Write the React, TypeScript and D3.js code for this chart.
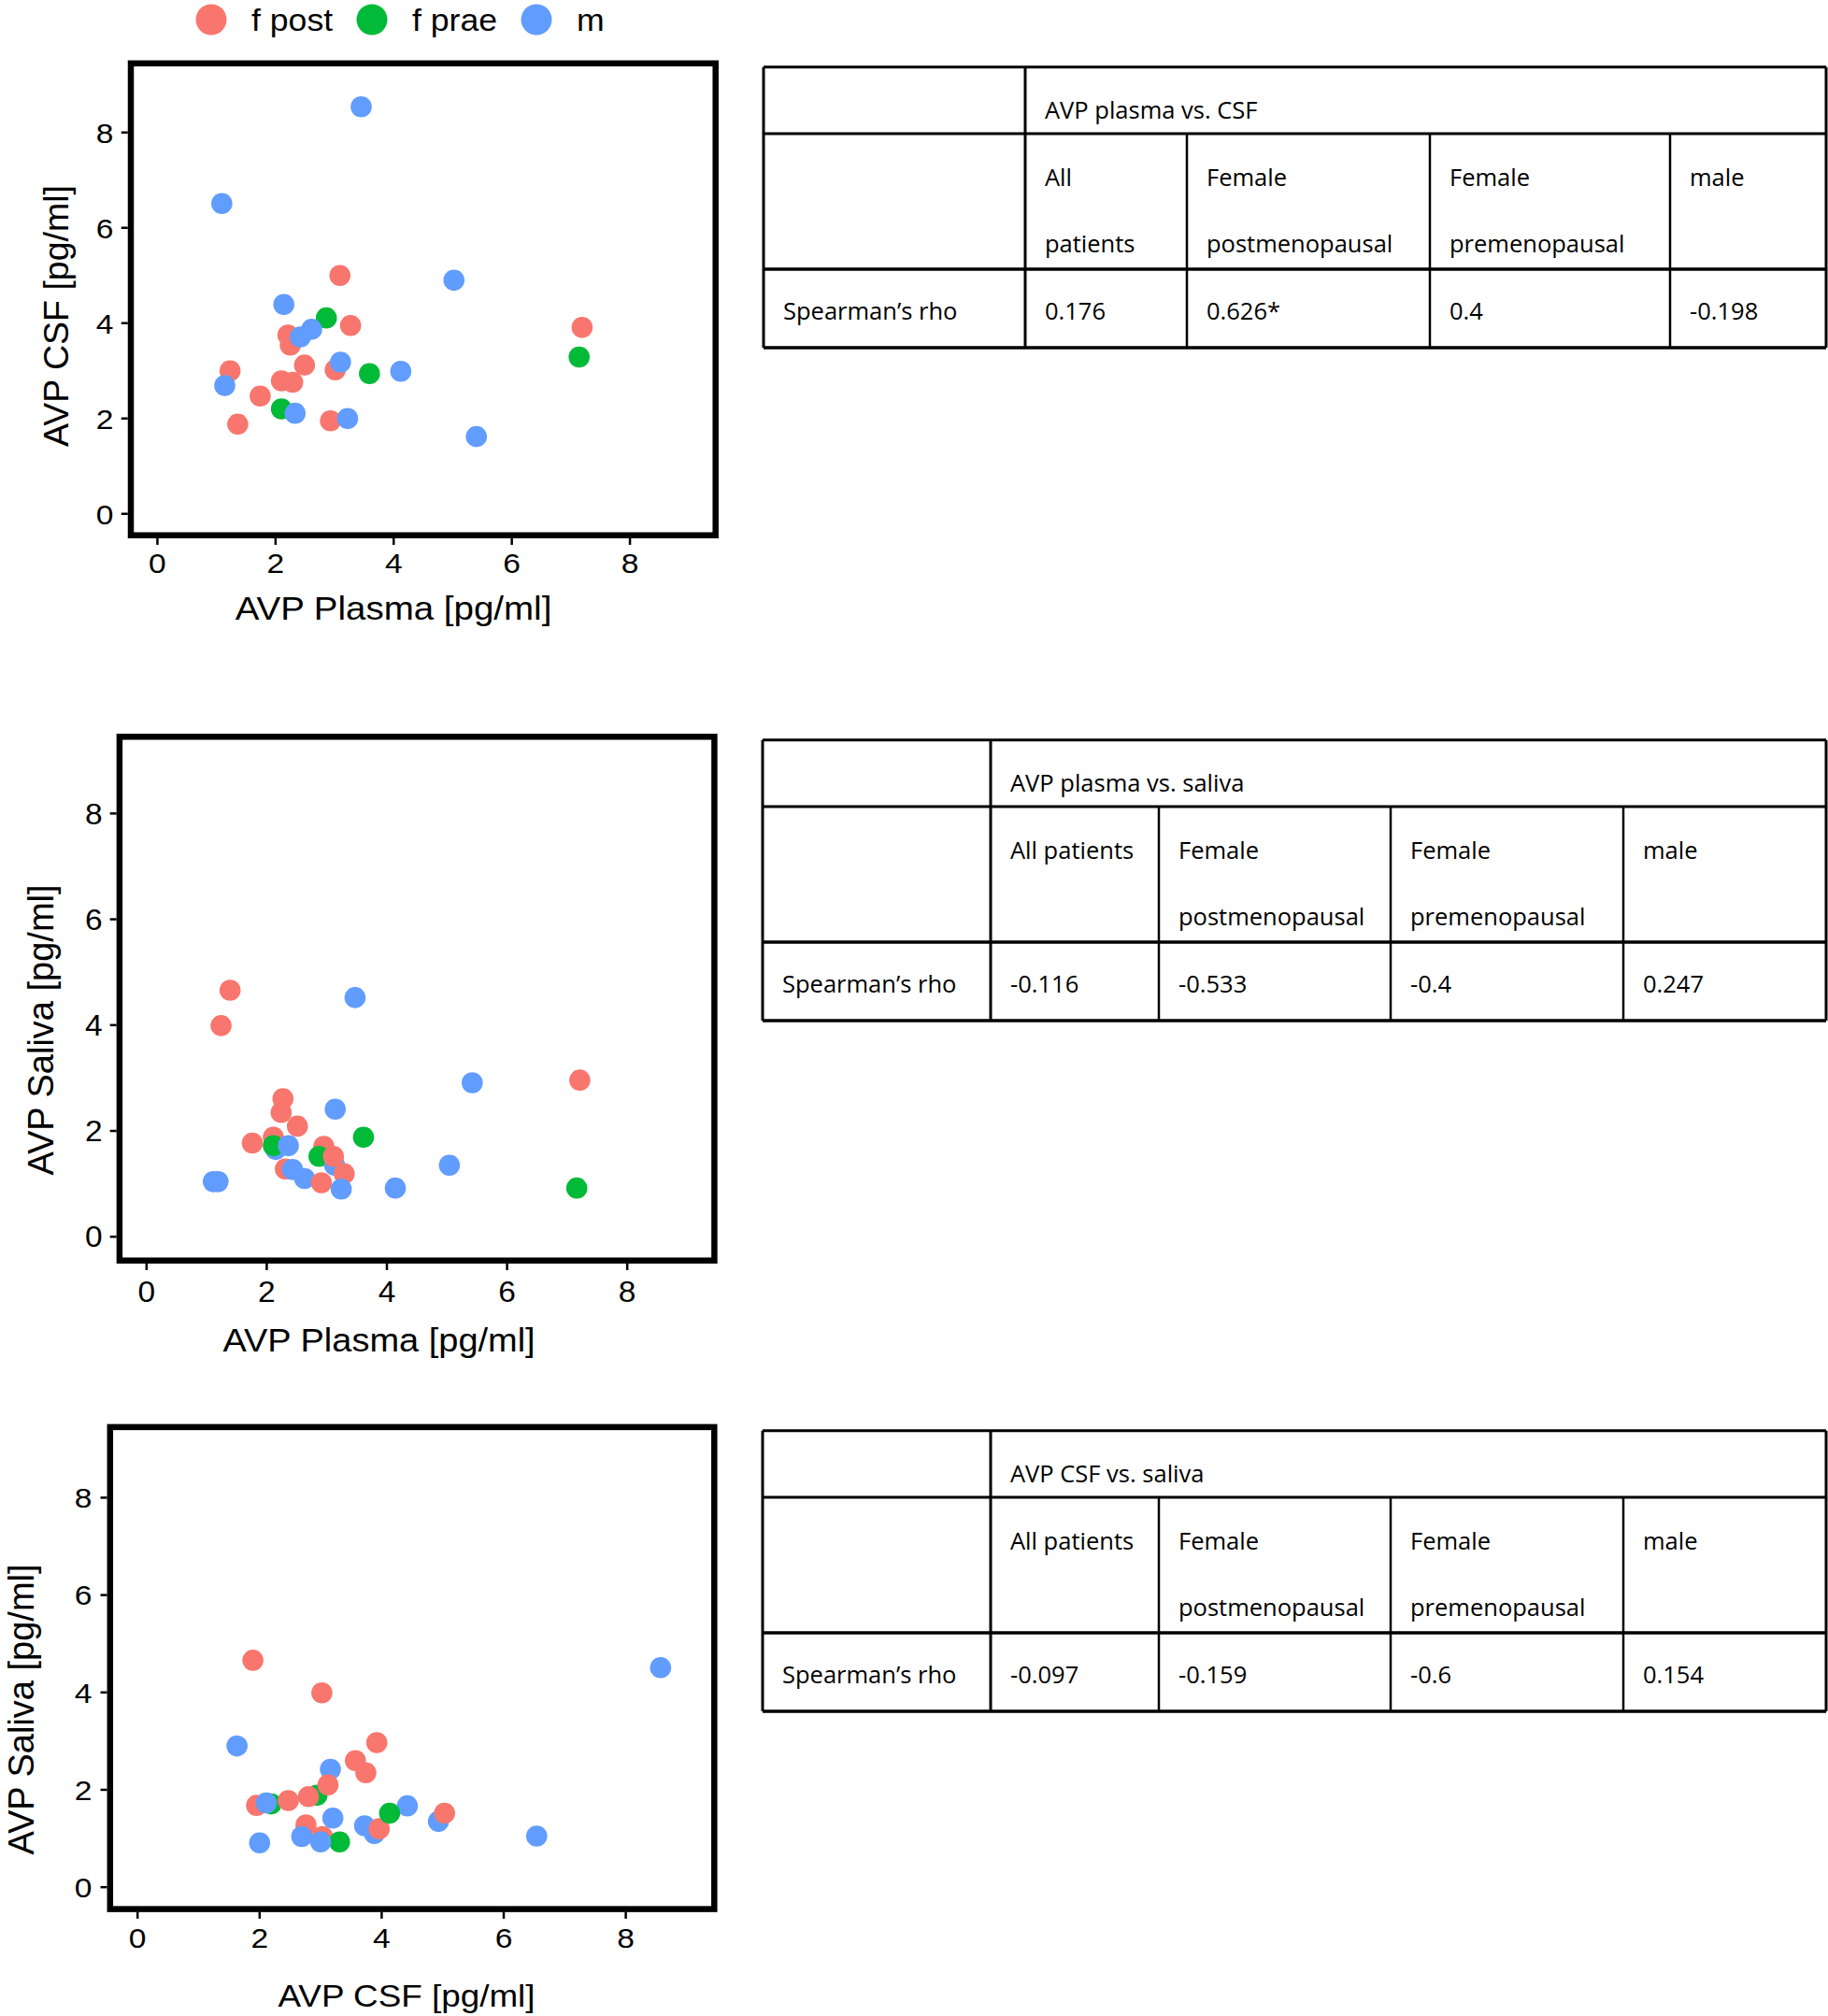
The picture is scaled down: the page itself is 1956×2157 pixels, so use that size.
import React from "react";
import * as d3 from "d3";

// ---------- DATA ----------
const groups = ["f post", "f prae", "m"];
const groupColors = ["#F8766D", "#00BA38", "#619CFF"];
const axisTicks = [0, 2, 4, 6, 8];
const axisDomain = [0, 9];

// Panel 1: AVP Plasma (x) vs AVP CSF (y)
const plasmaCsfX = [3.09, 3.27, 7.19, 2.21, 2.25, 2.49, 3.01, 1.23, 2.10, 2.29, 1.74, 1.36, 2.93, 2.86, 3.59, 7.14, 2.10, 3.45, 1.09, 5.02, 2.14, 2.61, 2.42, 3.10, 4.12, 1.14, 2.33, 3.22, 5.40];
const plasmaCsfY = [5.00, 3.95, 3.91, 3.75, 3.54, 3.12, 3.02, 3.00, 2.79, 2.76, 2.47, 1.88, 1.95, 4.11, 2.94, 3.29, 2.20, 8.54, 6.51, 4.90, 4.39, 3.87, 3.71, 3.18, 2.99, 2.69, 2.11, 2.00, 1.62];
const plasmaCsfGroup = ["f post", "f post", "f post", "f post", "f post", "f post", "f post", "f post", "f post", "f post", "f post", "f post", "f post", "f prae", "f prae", "f prae", "f prae", "m", "m", "m", "m", "m", "m", "m", "m", "m", "m", "m", "m"];

// Panel 2: AVP Plasma (x) vs AVP Saliva (y)
const plasmaSalivaX = [1.11, 1.19, 1.39, 1.24, 2.27, 2.24, 2.51, 1.76, 2.15, 2.11, 2.11, 2.36, 2.31, 2.43, 2.63, 2.95, 2.87, 3.13, 3.11, 2.91, 3.29, 3.24, 3.14, 3.61, 3.47, 4.14, 5.04, 5.42, 7.21, 7.16];
const plasmaSalivaY = [1.04, 1.04, 4.66, 3.99, 2.61, 2.35, 2.09, 1.77, 1.65, 1.88, 1.72, 1.72, 1.28, 1.27, 1.10, 1.71, 1.52, 1.35, 1.52, 1.02, 1.19, 0.90, 2.41, 1.88, 4.52, 0.92, 1.35, 2.91, 2.96, 0.92];
const plasmaSalivaGroup = ["m", "m", "f post", "f post", "f post", "f post", "f post", "f post", "m", "f post", "f prae", "m", "f post", "m", "m", "f post", "f prae", "m", "f post", "f post", "f post", "m", "m", "f prae", "m", "m", "m", "m", "f post", "f prae"];

// Panel 3: AVP CSF (x) vs AVP Saliva (y)
const csfSalivaX = [1.95, 2.19, 2.11, 2.94, 2.80, 2.47, 3.16, 3.12, 3.57, 3.74, 2.76, 3.03, 2.69, 3.31, 3.00, 2.00, 3.20, 3.72, 3.88, 3.96, 4.42, 4.13, 4.93, 5.03, 1.89, 3.02, 3.92, 8.57, 1.63, 6.54];
const csfSalivaY = [1.68, 1.71, 1.73, 1.89, 1.86, 1.78, 2.42, 2.10, 2.60, 2.35, 1.28, 1.04, 1.04, 0.93, 0.93, 0.91, 1.42, 1.26, 1.10, 1.20, 1.67, 1.52, 1.35, 1.52, 4.66, 3.99, 2.97, 4.51, 2.90, 1.05];
const csfSalivaGroup = ["f post", "f prae", "m", "f prae", "f post", "f post", "m", "f post", "f post", "f post", "f post", "f post", "m", "f prae", "m", "m", "m", "m", "m", "f post", "m", "f prae", "m", "f post", "f post", "f post", "f post", "m", "m", "m"];

// Tables
const tableTitles = ["AVP plasma vs. CSF", "AVP plasma vs. saliva", "AVP CSF vs. saliva"];
const rowLabel = "Spearman\u2019s rho";
const headersTable1 = [["All", "patients"], ["Female", "postmenopausal"], ["Female", "premenopausal"], ["male"]];
const headersOther = [["All patients"], ["Female", "postmenopausal"], ["Female", "premenopausal"], ["male"]];
const rhoPlasmaCsf = ["0.176", "0.626*", "0.4", "-0.198"];
const rhoPlasmaSaliva = ["-0.116", "-0.533", "-0.4", "0.247"];
const rhoCsfSaliva = ["-0.097", "-0.159", "-0.6", "0.154"];

// ---------- LAYOUT ----------
const AXIS_FONT = "'Liberation Sans', Arial, Helvetica, sans-serif";
const TABLE_FONT = "'Open Sans', 'Noto Sans', sans-serif";

const panels = [
  {
    xs: plasmaCsfX, ys: plasmaCsfY, gs: plasmaCsfGroup,
    left: 140, right: 765.7, top: 67.8, bottom: 572.7,
    xTitle: "AVP Plasma [pg/ml]", yTitle: "AVP CSF [pg/ml]",
    xTitlePos: [421, 650], yTitlePos: [59, 338],
    xLabelY: 602, yLabelX: 121.5, tickFont: 30, titleFont: 35, sx: 1.1, tickSx: 1.12, yTitleFont: 37.5,
  },
  {
    xs: plasmaSalivaX, ys: plasmaSalivaY, gs: plasmaSalivaGroup,
    left: 127.9, right: 764.4, top: 788.3, bottom: 1348.7,
    xTitle: "AVP Plasma [pg/ml]", yTitle: "AVP Saliva [pg/ml]",
    xTitlePos: [405.6, 1433], yTitlePos: [43, 1102],
    xLabelY: 1382, yLabelX: 109.7, tickFont: 31, titleFont: 35.5, sx: 1.07, tickSx: 1.08, yTitleFont: 38,
  },
  {
    xs: csfSalivaX, ys: csfSalivaY, gs: csfSalivaGroup,
    left: 117.8, right: 764.3, top: 1526.9, bottom: 2042.6,
    xTitle: "AVP CSF [pg/ml]", yTitle: "AVP Saliva [pg/ml]",
    xTitlePos: [435, 2135], yTitlePos: [22, 1829],
    xLabelY: 2073, yLabelX: 98.5, tickFont: 30, titleFont: 33.5, sx: 1.1, tickSx: 1.12, yTitleFont: 38,
  },
];

const tables = [
  { top: 71.7, cols: [817, 1097, 1270, 1530, 1787, 1954], headers: headersTable1, values: rhoPlasmaCsf, title: tableTitles[0] },
  { top: 791.7, cols: [816, 1060, 1240, 1488, 1737, 1954], headers: headersOther, values: rhoPlasmaSaliva, title: tableTitles[1] },
  { top: 1530.7, cols: [816, 1060, 1240, 1488, 1737, 1954], headers: headersOther, values: rhoCsfSaliva, title: tableTitles[2] },
];
const rowHeights = [71.3, 145, 84];

const colorScale = d3.scaleOrdinal<string, string>().domain(groups).range(groupColors);

function SText({ x, y, sx, anchor, size, children }: any) {
  return (
    <text transform={`translate(${x},${y}) scale(${sx},1)`} dy="0.36em" textAnchor={anchor}
      fontFamily={AXIS_FONT} fontSize={size} fill="#000">{children}</text>
  );
}

function Panel({ p }: { p: any }) {
  const pad = (axisDomain[1] - axisDomain[0]) * 0.05;
  const x = d3.scaleLinear().domain([axisDomain[0] - pad, axisDomain[1] + pad]).range([p.left, p.right]);
  const y = d3.scaleLinear().domain([axisDomain[0] - pad, axisDomain[1] + pad]).range([p.bottom, p.top]);
  const tickLen = 7;
  const sw = 6.5;
  return (
    <g>
      {p.xs.map((v: number, i: number) => (
        <circle key={i} cx={x(v)} cy={y(p.ys[i])} r={11.3} fill={colorScale(p.gs[i])} />
      ))}
      <rect x={p.left} y={p.top} width={p.right - p.left} height={p.bottom - p.top}
        fill="none" stroke="#000" strokeWidth={sw} />
      {axisTicks.map((t) => (
        <g key={"x" + t}>
          <line x1={x(t)} x2={x(t)} y1={p.bottom + sw / 2} y2={p.bottom + sw / 2 + tickLen} stroke="#000" strokeWidth={2.5} />
          <SText x={x(t)} y={p.xLabelY} sx={p.tickSx} anchor="middle" size={p.tickFont}>{t}</SText>
        </g>
      ))}
      {axisTicks.map((t) => (
        <g key={"y" + t}>
          <line x1={p.left - sw / 2} x2={p.left - sw / 2 - tickLen} y1={y(t)} y2={y(t)} stroke="#000" strokeWidth={2.5} />
          <SText x={p.yLabelX} y={y(t)} sx={p.tickSx} anchor="end" size={p.tickFont}>{t}</SText>
        </g>
      ))}
      <SText x={p.xTitlePos[0]} y={p.xTitlePos[1]} sx={p.sx} anchor="middle" size={p.titleFont}>{p.xTitle}</SText>
      <text transform={`translate(${p.yTitlePos[0]},${p.yTitlePos[1]}) rotate(-90)`} dy="0.36em" textAnchor="middle"
        fontFamily={AXIS_FONT} fontSize={p.yTitleFont} fill="#000">{p.yTitle}</text>
    </g>
  );
}

function Table({ t }: { t: any }) {
  const c = t.cols;
  const r0 = t.top, r1 = r0 + rowHeights[0], r2 = r1 + rowHeights[1], r3 = r2 + rowHeights[2];
  const padX = 21;
  const fs = 25.5;
  const sw = 3;
  return (
    <g fontFamily={TABLE_FONT} fontSize={fs} fill="#000">
      <line x1={c[0]} x2={c[5]} y1={r0} y2={r0} stroke="#000" strokeWidth={sw} />
      <line x1={c[0]} x2={c[5]} y1={r1} y2={r1} stroke="#000" strokeWidth={sw} />
      <line x1={c[0]} x2={c[5]} y1={r2} y2={r2} stroke="#000" strokeWidth={sw + 0.5} />
      <line x1={c[0]} x2={c[5]} y1={r3} y2={r3} stroke="#000" strokeWidth={sw + 0.5} />
      <line x1={c[0]} x2={c[0]} y1={r0} y2={r3} stroke="#000" strokeWidth={sw} />
      <line x1={c[1]} x2={c[1]} y1={r0} y2={r3} stroke="#000" strokeWidth={sw} />
      <line x1={c[5]} x2={c[5]} y1={r0} y2={r3} stroke="#000" strokeWidth={sw} />
      {[2, 3, 4].map((k) => (
        <line key={k} x1={c[k]} x2={c[k]} y1={r1} y2={r3} stroke="#000" strokeWidth={2.5} />
      ))}
      <text x={c[1] + padX} y={r0 + 55}>{t.title}</text>
      {t.headers.map((h: string[], i: number) => (
        <g key={i}>
          {h.map((line: string, j: number) => (
            <text key={j} x={c[i + 1] + padX} y={r1 + 56 + j * 71}>{line}</text>
          ))}
        </g>
      ))}
      <text x={c[0] + padX} y={r2 + 54}>{rowLabel}</text>
      {t.values.map((v: string, i: number) => (
        <text key={i} x={c[i + 1] + padX} y={r2 + 54}>{v}</text>
      ))}
    </g>
  );
}

const legendX = [226, 398, 574];

export default function App() {
  return (
    <svg width={1956} height={2157} style={{ position: "absolute", left: 0, top: 0, background: "#fff" }}>
      <rect x={0} y={0} width={1956} height={2157} fill="#fff" />
      {groups.map((g, i) => (
        <g key={g}>
          <ellipse cx={legendX[i]} cy={21} rx={16.5} ry={16.5} fill={colorScale(g)} />
          <text transform={`translate(${legendX[i] + 43},33) scale(1.08,1)`} fontFamily={AXIS_FONT} fontSize={33} fill="#000">{g}</text>
        </g>
      ))}
      {panels.map((p, i) => <Panel key={i} p={p} />)}
      {tables.map((t, i) => <Table key={i} t={t} />)}
    </svg>
  );
}
